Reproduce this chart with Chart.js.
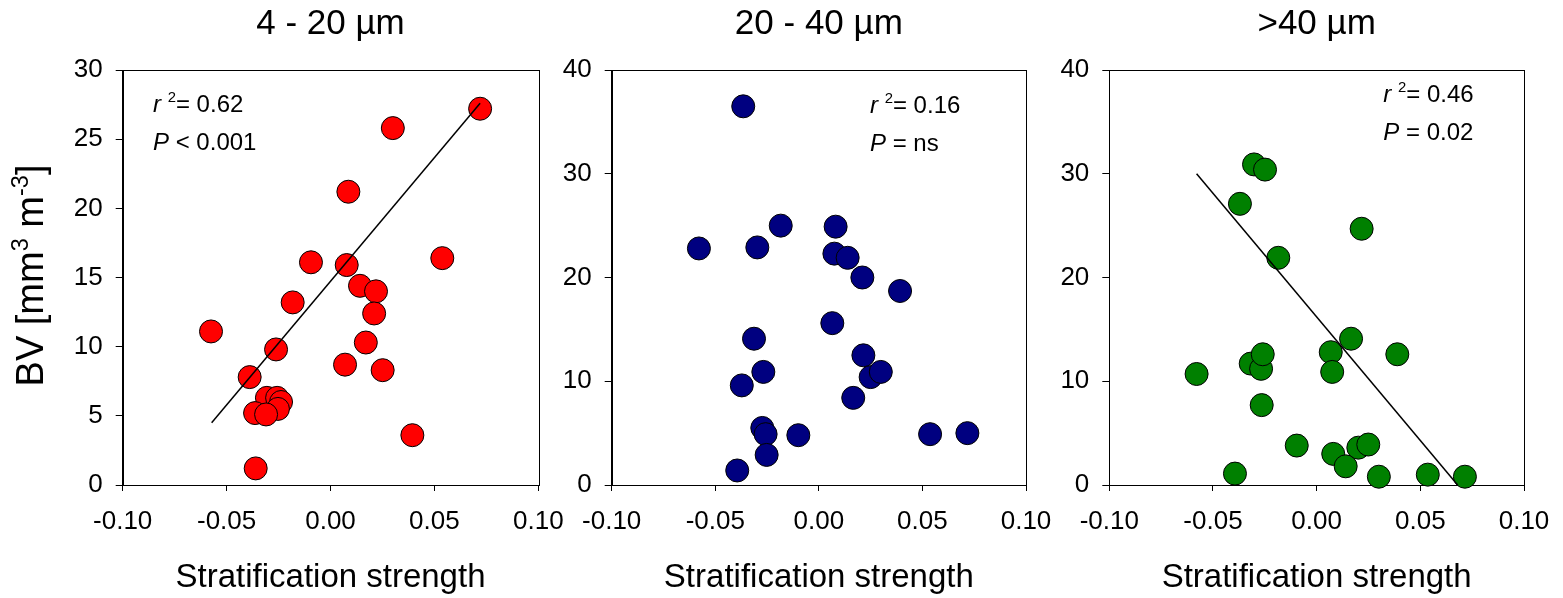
<!DOCTYPE html>
<html>
<head>
<meta charset="utf-8">
<script src="https://cdn.jsdelivr.net/npm/chart.js@4.4.1/dist/chart.umd.min.js"></script>
<style>
  body { margin: 0; background: #fff; }
  .panel { position: absolute; top: 0; height: 598px; }
</style>
</head>
<body>
<div class="panel" style="left:0;width:580px"><canvas id="small"></canvas></div>
<div class="panel" style="left:558px;width:510px"><canvas id="medium"></canvas></div>
<div class="panel" style="left:1045px;width:518px"><canvas id="large"></canvas></div>
<script>
// size classes
const panelTitles = ['4 - 20 µm', '20 - 40 µm', '>40 µm'];
const yMaxes = [30, 40, 40];
const ySteps = [5, 10, 10];

// 4 - 20 µm
const smallX = [0.072, 0.030, 0.0086, -0.0094, 0.0078, 0.0538, 0.0142, 0.0219, -0.0182, 0.021, -0.0575, 0.017,
  -0.0262, 0.007, 0.0251, -0.0389, -0.0306, -0.0257, -0.0238, -0.0253, -0.0363, -0.031, 0.0394, -0.036];
const smallY = [27.2, 25.8, 21.2, 16.1, 15.9, 16.4, 14.4, 14.0, 13.2, 12.4, 11.1, 10.3,
  9.8, 8.7, 8.3, 7.8, 6.3, 6.3, 6.0, 5.5, 5.2, 5.1, 3.6, 1.2];
const smallFitX = [-0.0572, 0.072];
const smallFitY = [4.5, 27.6];

// 20 - 40 µm
const mediumX = [-0.0365, -0.0184, 0.0081, -0.0579, -0.0297, 0.0075, 0.0139, 0.021, 0.0392, 0.0065, -0.0313, 0.0215,
  0.025, 0.0299, -0.0268, -0.0372, 0.0166, -0.0273, -0.0257, -0.0099, 0.0537, 0.0717, -0.0252, -0.0394];
const mediumY = [36.5, 25.0, 24.9, 22.8, 22.9, 22.3, 21.9, 20.0, 18.7, 15.6, 14.1, 12.5,
  10.4, 10.9, 10.9, 9.6, 8.4, 5.5, 4.9, 4.8, 4.9, 5.0, 2.9, 1.4];

// >40 µm
const largeX = [-0.0302, -0.0249, -0.037, 0.0217, -0.0185, 0.0166, 0.0068, 0.0389, -0.0318, -0.0268, -0.026, 0.0075,
  -0.0579, -0.0265, -0.0096, 0.0201, 0.0249, 0.008, 0.014, -0.0394, 0.030, 0.0536, 0.0715];
const largeY = [30.9, 30.4, 27.1, 24.7, 21.9, 14.1, 12.8, 12.6, 11.7, 11.2, 12.6, 10.9,
  10.7, 7.7, 3.8, 3.6, 3.9, 3.0, 1.8, 1.1, 0.8, 1.0, 0.8];
const largeFitX = [-0.0579, 0.068];
const largeFitY = [30.0, 0];

const FONT = '"Liberation Sans", Arial, sans-serif';
Chart.defaults.font.family = FONT;
Chart.defaults.color = '#000';

// draws a run of text pieces, some italic, some raised
function drawRuns(ctx, runs, x, y, size) {
  let cx = x;
  runs.forEach(r => {
    const s = r.sup ? size * 0.62 : size;
    ctx.font = (r.italic ? 'italic ' : '') + s + 'px ' + FONT;
    ctx.fillText(r.t, cx, r.sup ? y - size * 0.4 : y);
    cx += ctx.measureText(r.t).width;
  });
  return cx - x;
}

function runsWidth(ctx, runs, size) {
  let w = 0;
  runs.forEach(r => {
    const s = r.sup ? size * 0.62 : size;
    ctx.font = (r.italic ? 'italic ' : '') + s + 'px ' + FONT;
    w += ctx.measureText(r.t).width;
  });
  return w;
}

const panelDecor = {
  id: 'panelDecor',
  beforeDatasetsDraw(chart) {
    // box round the plot area
    const a = chart.chartArea;
    const ctx = chart.ctx;
    ctx.save();
    ctx.strokeStyle = '#000';
    ctx.lineWidth = 1;
    ctx.strokeRect(Math.round(a.left) + 0.5, Math.round(a.top) + 0.5,
      Math.round(a.right - a.left), Math.round(a.bottom - a.top));
    ctx.restore();
  },
  afterDraw(chart, args, opts) {
    const a = chart.chartArea;
    const ctx = chart.ctx;
    ctx.save();
    ctx.fillStyle = '#000';
    ctx.textBaseline = 'alphabetic';
    ctx.textAlign = 'left';
    opts.notes.forEach(n => drawRuns(ctx, n.runs, a.left + n.dx, a.top + n.dy, 24));
    if (opts.yTitle) {
      const runs = [{ t: 'BV [mm' }, { t: '3', sup: true }, { t: ' m' }, { t: '-3', sup: true }, { t: ']' }];
      const w = runsWidth(ctx, runs, 38);
      ctx.translate(43, 275.5);
      ctx.rotate(-Math.PI / 2);
      drawRuns(ctx, runs, -w / 2, 0, 38);
    }
    ctx.restore();
  }
};

function statNotes(r2, p, pSign, dx, dy) {
  return [
    { dx: dx, dy: dy, runs: [{ t: 'r ', italic: true }, { t: '2', sup: true }, { t: '= ' + r2 }] },
    { dx: dx, dy: dy + 38, runs: [{ t: 'P', italic: true }, { t: ' ' + pSign + ' ' + p }] }
  ];
}

function makePanel(canvasId, idx, xs, ys, fitX, fitY, color, yAxisWidth, padRight, notes, yTitle) {
  const datasets = [];
  if (fitX) {
    datasets.push({
      data: fitX.map((x, i) => ({ x: x, y: fitY[i] })),
      showLine: true,
      borderColor: '#000',
      borderWidth: 1.5,
      pointRadius: 0,
      clip: false
    });
  }
  datasets.push({
    data: xs.map((x, i) => ({ x: x, y: ys[i] })),
    backgroundColor: color,
    borderColor: '#000',
    borderWidth: 1,
    pointRadius: 11.5,
    pointHoverRadius: 11.5,
    clip: false
  });

  return new Chart(document.getElementById(canvasId), {
    type: 'scatter',
    data: { datasets: datasets },
    options: {
      responsive: true,
      maintainAspectRatio: false,
      animation: false,
      events: [],
      layout: { padding: { left: 0, right: padRight, top: 0, bottom: 0 } },
      plugins: {
        legend: { display: false },
        tooltip: { enabled: false },
        title: {
          display: true,
          text: panelTitles[idx],
          fullSize: false,
          color: '#000',
          font: { size: 35, weight: 'normal' },
          padding: { top: 3.2, bottom: 24.8 }
        },
        panelDecor: { notes: notes, yTitle: yTitle }
      },
      scales: {
        x: {
          type: 'linear',
          min: -0.1,
          max: 0.1,
          ticks: {
            stepSize: 0.05,
            color: '#000',
            font: { size: 26 },
            padding: 15,
            maxRotation: 0,
            callback: v => (Math.abs(v) < 1e-9 ? 0 : v).toFixed(2)
          },
          grid: { drawOnChartArea: false, drawTicks: true, tickLength: 6, color: '#000', tickColor: '#000' },
          border: { color: '#000', width: 1 },
          title: { display: true, text: 'Stratification strength', color: '#000', font: { size: 33 }, padding: 0 },
          // fixed height, and let the end labels hang past the plot edges
          afterFit: s => { s.height = 113; s.paddingLeft = 0; s.paddingRight = 0; }
        },
        y: {
          min: 0,
          max: yMaxes[idx],
          ticks: { stepSize: ySteps[idx], color: '#000', font: { size: 26 }, padding: 13 },
          grid: { drawOnChartArea: false, drawTicks: true, tickLength: 7, color: '#000', tickColor: '#000' },
          border: { color: '#000', width: 1 },
          afterFit: s => { s.width = yAxisWidth; s.paddingTop = 0; s.paddingBottom = 0; }
        }
      }
    },
    plugins: [panelDecor]
  });
}

// canvases overlap a little so the 0.10 labels are not cut off
makePanel('small', 0, smallX, smallY, smallFitX, smallFitY, '#ff0000', 122.7, 41.7,
  statNotes('0.62', '0.001', '<', 30.3, 42), true);
makePanel('medium', 1, mediumX, mediumY, null, null, '#000080', 53.7, 42,
  statNotes('0.16', 'ns', '=', 258.3, 43), false);
makePanel('large', 2, largeX, largeY, largeFitX, largeFitY, '#008000', 64.3, 39,
  statNotes('0.46', '0.02', '=', 274, 32), false);
</script>
</body>
</html>
